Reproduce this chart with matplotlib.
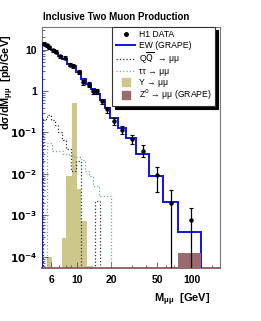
import numpy as np
import matplotlib
matplotlib.use("Agg")
import matplotlib.pyplot as plt
from matplotlib.lines import Line2D
from matplotlib.ticker import FixedLocator, NullFormatter

plt.rcParams['font.family'] = ['Liberation Sans', 'DejaVu Sans']

#
# data
#
# H1 data points
data_m = [5.17, 5.52, 5.8, 6.2, 6.66, 7.2, 7.86, 8.7, 9.3, 10.4, 11.35, 12.7,
          13.9, 15.0, 16.7, 18.4, 21.0, 24.8, 29.9, 37.5, 49.3, 65.6, 97.7]
data_v = [13.9, 12.7, 11.4, 9.6, 8.8, 6.9, 6.4, 4.35, 4.05, 2.84, 1.63, 1.43,
          0.99, 0.99, 0.56, 0.36, 0.187, 0.118, 0.068, 0.0354, 0.0092, 0.00202, 0.00076]
data_lo = [1.1, 1.0, 0.9, 0.8, 0.7, 0.6, 0.55, 0.4, 0.4, 0.3, 0.2, 0.2,
           0.13, 0.13, 0.08, 0.06, 0.035, 0.025, 0.016, 0.0104, 0.0055, 0.00202, 0.00076]
data_hi = [1.1, 1.0, 0.9, 0.8, 0.7, 0.6, 0.55, 0.4, 0.4, 0.3, 0.2, 0.2,
           0.13, 0.13, 0.08, 0.06, 0.035, 0.025, 0.021, 0.0134, 0.0054, 0.002, 0.00072]

# EW (GRAPE) histogram
ew_edges = [5.0, 5.35, 5.65, 6.0, 6.43, 6.92, 7.52, 8.27, 9.0, 9.83, 10.86, 12.0,
            13.3, 14.45, 15.8, 17.5, 19.6, 22.8, 27.0, 32.6, 42.5, 56.4, 75.2, 120.0]
ew_vals = [13.5, 12.0, 11.0, 9.8, 8.3, 7.0, 5.9, 4.6, 3.9, 2.9, 2.0, 1.5,
           1.1, 0.85, 0.62, 0.40, 0.22, 0.125, 0.0745, 0.0295, 0.00885, 0.00209, 0.000396]

# QQbar -> mumu
qq_edges = [5.09, 5.48, 6.0, 6.44, 6.91, 7.41, 8.02, 8.99, 9.94, 10.99, 14.34, 15.85]
qq_vals = [0.21, 0.27, 0.2, 0.15, 0.1, 0.065, 0.04, 0.012, 0.021, 0.0, 0.0022]

# tautau -> mumu
tt_edges = [5.5, 6.1, 7.6, 8.5, 9.4, 10.95, 11.9, 12.7, 13.9, 15.6, 19.8]
tt_vals = [0.057, 0.035, 0.03, 0.028, 0.025, 0.022, 0.012, 0.009, 0.005, 0.0029]

# Upsilon -> mumu
ups_edges = [5.56, 6.10, 7.45, 8.14, 9.05, 10.0, 10.99, 12.29, 13.77]
ups_vals = [1.0e-4, 0.0, 2.8e-4, 9e-3, 0.52, 4.3e-3, 7.2e-4, 6e-5]

# Z0 -> mumu
z_edges = [75.2, 120.0]
z_vals = [1.25e-4]

xticks = [6, 10, 20, 50, 100]
xtick_labels = ['6', '10', '20', '50', '100']
yticks = [1e-4, 1e-3, 1e-2, 1e-1, 1, 10]
ytick_labels = [r'$\mathbf{10^{-4}}$', r'$\mathbf{10^{-3}}$', r'$\mathbf{10^{-2}}$',
                r'$\mathbf{10^{-1}}$', '1', '10']

olive = '#cdc88a'
maroon = '#9b6a6e'
teal = '#7fa89c'

#
# figure
#
fig = plt.figure(figsize=(2.61, 3.21), dpi=100)
ax = fig.add_axes([0.161, 0.165, 0.682, 0.751])
ax.set_xscale('log')
ax.set_yscale('log')

ax.stairs(ups_vals, ups_edges, fill=True, color=olive, baseline=1e-6, zorder=1)
ax.stairs(qq_vals, qq_edges, color='#333333', ls=':', lw=0.9, baseline=1e-6, zorder=2)
ax.stairs(tt_vals, tt_edges, color=teal, ls=':', lw=0.9, baseline=1e-6, zorder=2)
ax.stairs(ew_vals, ew_edges, color='#1010ee', lw=1.4, baseline=1e-6, zorder=3)
ax.stairs(z_vals, z_edges, fill=True, color=maroon, baseline=1e-6, zorder=4)
ax.errorbar(data_m, data_v, yerr=[data_lo, data_hi], fmt='o', ms=2.2, color='black',
            ecolor='black', elinewidth=0.9, capsize=1.2, capthick=0.8, zorder=5)

ax.set_xlim(5.0, 175)
ax.set_ylim(5.4e-5, 35)

ax.xaxis.set_major_locator(FixedLocator(xticks))
ax.set_xticklabels(xtick_labels)
ax.xaxis.set_minor_locator(FixedLocator([5, 7, 8, 9, 30, 40, 60, 70, 80, 90, 150]))
ax.xaxis.set_minor_formatter(NullFormatter())
ax.yaxis.set_major_locator(FixedLocator(yticks))
ax.set_yticklabels(ytick_labels)
ax.yaxis.set_minor_formatter(NullFormatter())

ax.tick_params(which='both', direction='in', top=False, right=False,
               labelsize=7.5, width=0.6, color='#555555')
ax.tick_params(which='major', length=4)
ax.tick_params(which='minor', length=2)
ax.tick_params(axis='x', pad=5)
for lab in ax.get_xticklabels() + ax.get_yticklabels():
  lab.set_fontweight('bold')

for s in ['left', 'top', 'right']:
  ax.spines[s].set_color('#777777')
  ax.spines[s].set_linewidth(0.8)
ax.spines['bottom'].set_color('#8a5a5e')
ax.spines['bottom'].set_linewidth(1.3)

fig.text(43 / 261, 1 - 17 / 321, 'Inclusive Two Muon Production', fontsize=7,
         fontweight='bold', ha='left', va='center')
fig.text(8 / 261, 1 - 82 / 321, 'dσ/dM$_{\\mathregular{μμ}}$  [pb/GeV]', fontsize=7.8,
         fontweight='bold', rotation=90, ha='center', va='center')
fig.text(210 / 261, 1 - 300 / 321, 'M$_{\\mathregular{μμ}}$  [GeV]', fontsize=8,
         fontweight='bold', ha='right', va='center')

handles = [
  Line2D([], [], marker='o', ms=2.5, color='black', ls='none'),
  Line2D([], [], color='#1010ee', lw=1.4),
  Line2D([], [], color='#333333', lw=0.9, ls=':'),
  Line2D([], [], color=teal, lw=0.9, ls=':'),
  Line2D([], [], marker='s', ms=6, color=olive, ls='none'),
  Line2D([], [], marker='s', ms=6, color=maroon, ls='none'),
]
labels = ['H1 DATA', 'EW (GRAPE)', r'Q$\overline{\mathrm{Q}}$  → μμ', 'ττ → μμ',
          'Υ → μμ', 'Z$^0$ → μμ (GRAPE)']
leg = ax.legend(handles, labels, loc='upper right', bbox_to_anchor=(0.972, 1.0),
                fontsize=6.2, frameon=True, fancybox=False, borderaxespad=0,
                handlelength=2.3, handletextpad=0.4, labelspacing=0.15,
                borderpad=0.4, shadow={'color': 'black', 'alpha': 1})
leg.get_frame().set_edgecolor('#333333')
leg.get_frame().set_linewidth(0.8)
leg.set_zorder(10)

fig.savefig('out.png', dpi=100)
